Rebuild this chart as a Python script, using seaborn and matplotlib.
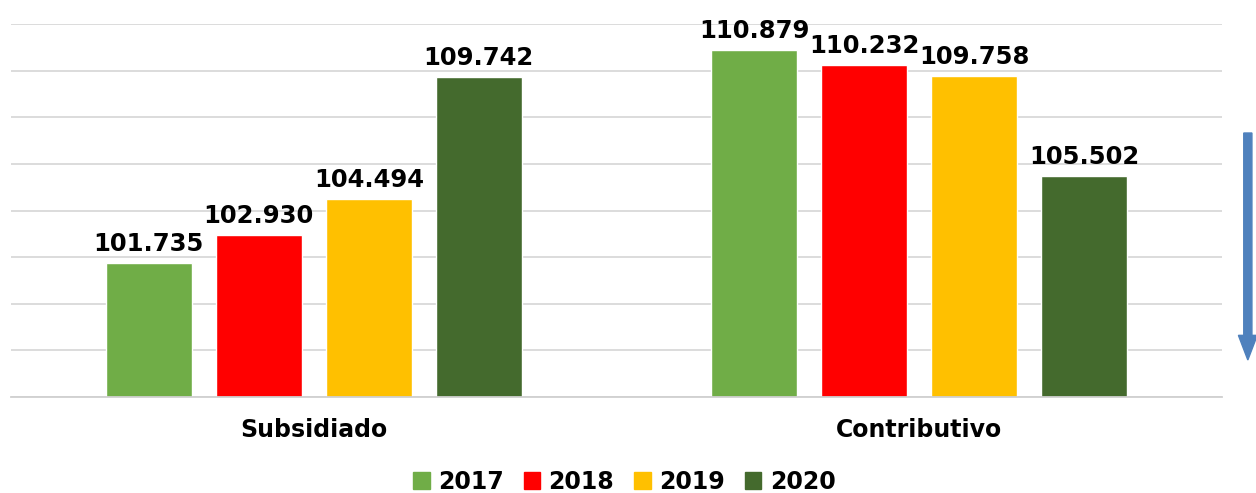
import pandas as pd
import matplotlib.pyplot as plt
import seaborn as sns
from matplotlib.patches import FancyArrow

# --- data ---
regimes = ['Subsidiado', 'Contributivo']
years = ['2017', '2018', '2019', '2020']
subsidiado = [101.735, 102.930, 104.494, 109.742]
contributivo = [110.879, 110.232, 109.758, 105.502]
colors = ['#70ad47', '#ff0000', '#ffc000', '#446a2d']

rows = []
for y, s, c in zip(years, subsidiado, contributivo):
    rows.append({'Regimen': 'Subsidiado', 'Year': y, 'Value': s})
    rows.append({'Regimen': 'Contributivo', 'Year': y, 'Value': c})
df = pd.DataFrame(rows)

sns.set_style('white')
plt.rcParams['font.family'] = ['DejaVu Sans']
plt.rcParams['text.color'] = 'black'

fig = plt.figure(figsize=(12.56, 4.93), dpi=100)
ax = fig.add_axes([0.0088, 0.195, 0.964, 0.756])

sns.barplot(data=df, x='Regimen', y='Value', hue='Year', order=regimes,
            hue_order=years, palette=colors, width=0.727, gap=0.22,
            saturation=1, ax=ax, legend=False)

ax.set_ylim(96, 112)
ax.set_xlim(-0.5, 1.5)
ax.set_yticks(range(96, 113, 2))
ax.yaxis.grid(True, color='#d9d9d9', linewidth=1.3)
ax.set_axisbelow(True)
ax.tick_params(axis='y', left=False, labelleft=False)
ax.tick_params(axis='x', bottom=False, pad=12, labelcolor='black')
for lbl in ax.get_xticklabels():
    lbl.set_fontsize(17)
    lbl.set_fontweight('heavy')
for side in ['left', 'right', 'top']:
    ax.spines[side].set_visible(False)
ax.spines['bottom'].set_color('#d0d0d0')
ax.spines['bottom'].set_linewidth(1.3)
ax.set_xlabel('')
ax.set_ylabel('')

for cont in ax.containers:
    labels = [f'{v:.3f}' for v in cont.datavalues]
    ax.bar_label(cont, labels=labels, padding=5, fontsize=17.5,
                 fontweight='heavy', color='black')

# legend
handles = [plt.Rectangle((0, 0), 1, 1, color=c) for c in colors]
fig.legend(handles, years, loc='lower center', bbox_to_anchor=(0.497, -0.045), ncol=4,
           frameon=False, prop={'size': 17, 'weight': 'heavy'},
           handlelength=0.7, handleheight=0.7, handletextpad=0.35, columnspacing=0.85)

# blue arrow at the right edge (slide decoration)
fig.patches.append(FancyArrow(0.9935, 1 - 133 / 493, 0, -(227 / 493), width=0.0065,
                              head_width=0.015, head_length=0.05,
                              length_includes_head=True, color='#4f81bd',
                              transform=fig.transFigure, figure=fig))

fig.savefig('out.png', dpi=100)
